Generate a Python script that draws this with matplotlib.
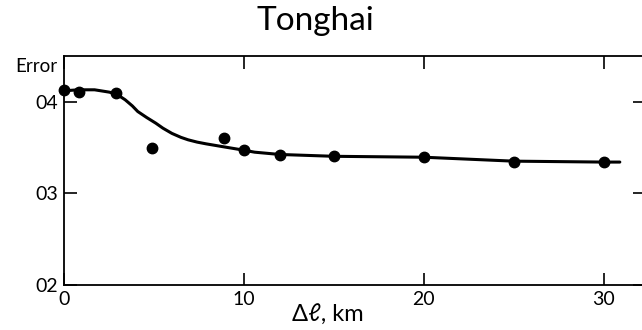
import matplotlib.pyplot as plt

# --- data ---
pts_x = [0, 0.85, 2.9, 4.9, 8.9, 10.0, 12.0, 15.0, 20.0, 25.0, 30.0]
pts_y = [0.413, 0.411, 0.4095, 0.350, 0.361, 0.3475, 0.342, 0.341, 0.3396, 0.3348, 0.334]

curve_x = [0, 0.8, 1.7, 2.5, 2.9, 3.4, 3.8, 4.1, 4.6, 5.1, 5.5, 6.0, 6.5, 6.9, 7.4,
           7.9, 8.8, 9.9, 10.6, 12.0, 15.0, 20.0, 25.0, 30.0, 30.9]
curve_y = [0.412, 0.4131, 0.4131, 0.4106, 0.4087, 0.4022, 0.3955, 0.3894, 0.3828,
           0.3767, 0.3712, 0.3655, 0.3612, 0.3585, 0.3560, 0.3541, 0.3511, 0.3475,
           0.345, 0.3425, 0.3405, 0.3395, 0.3352, 0.3342, 0.3342]

x_ticks = [0, 10, 20, 30]
x_ticklabels = ['0', '10', '20', '30']
y_ticks = [0.2, 0.3, 0.4]
y_ticklabels = ['02', '03', '04']

fonts = ['Lato', 'DejaVu Sans']
plt.rcParams['font.family'] = fonts

fig = plt.figure(figsize=(6.42, 3.30), dpi=100)
ax = fig.add_axes([64 / 642, 45 / 330, 581 / 642, 229 / 330])

ax.plot(curve_x, curve_y, color='black', lw=2.2, solid_capstyle='round',
        solid_joinstyle='round', clip_on=False)
ax.plot(pts_x, pts_y, 'o', color='black', ms=7.5, clip_on=False, zorder=3)

ax.set_xlim(0, 32.3)
ax.set_ylim(0.2, 0.45)

ax.set_xticks(x_ticks)
ax.set_xticklabels(x_ticklabels)
ax.set_yticks(y_ticks)
ax.set_yticklabels(y_ticklabels)
ax.tick_params(direction='in', length=9, width=1.2, labelsize=14, pad=4,
               top=True, right=True, colors='black')

for s in ax.spines.values():
    s.set_linewidth(1.3)
    s.set_color('black')

ax.text(-0.012, 0.438, 'Error', transform=ax.get_yaxis_transform(),
        ha='right', va='center', fontsize=13.5)

fig.text(315 / 642, 1 - 30 / 330, 'Tonghai', ha='center', va='baseline', fontsize=24)
fig.text(328 / 642, 1 - 322 / 330, 'Δℓ, km', ha='center', va='baseline', fontsize=17)

fig.savefig('out.png', dpi=100)
